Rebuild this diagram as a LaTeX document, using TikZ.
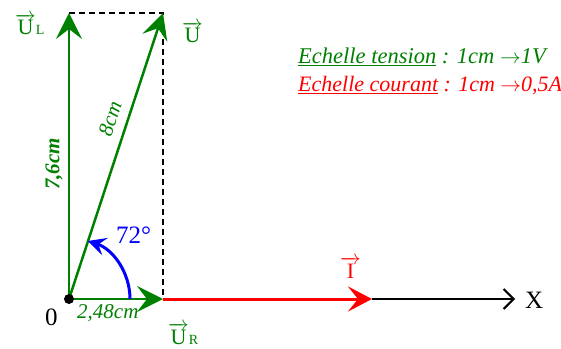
\documentclass[tikz,border=0pt]{standalone}
\usepackage{fontspec}
\setmainfont{Liberation Serif}
\usetikzlibrary{arrows.meta}
\definecolor{vgreen}{RGB}{0,128,0}
\newcommand\vlab[2]{$\overrightarrow{\hbox{#1}}$\hbox{\fontsize{14}{16}\selectfont #2}}
\begin{document}
\begin{tikzpicture}[x=1pt,y=1pt,
  vec/.style={vgreen, line width=2.5pt, -{Stealth[length=26pt,width=26pt,inset=10pt]}},
  cur/.style={red, line width=3pt, -{Stealth[length=24pt,width=25pt,inset=10pt]}},
  axis/.style={black, line width=2pt, -{Straight Barb[length=10pt,width=20pt]}},
  guide/.style={black, line width=1.5pt, dash pattern=on 6pt off 4pt},
  vlbl/.style={font=\fontsize{22}{26}\selectfont, inner sep=0pt, anchor=base west},
  lbl/.style={font=\fontsize{25}{28}\selectfont, inner sep=0pt, anchor=base west},
  meas/.style={vgreen, font=\fontsize{21}{24}\selectfont\itshape, inner sep=0pt},
  legend/.style={font=\fontsize{22}{25}\selectfont\itshape, anchor=base west, inner sep=0pt}]
\useasboundingbox (0,0) rectangle (561,348);
\coordinate (O) at (69,49);
\coordinate (UL) at (69,335);
\coordinate (U) at (163,335);
\coordinate (UR) at (163,49);
\coordinate (I) at (372,49);
\coordinate (X) at (515,49);
\coordinate (A0) at (130,49);
\draw[guide] (UL) -- (U) -- (UR);
\draw[axis] (I) -- (X);
\draw[cur] (UR) -- (I);
\draw[vec] (O) -- (UR);
\draw[vec] (O) -- (UL);
\draw[vec] (O) -- (U);
\fill[black] (O) circle (5);
\draw[blue, line width=3pt, -{Stealth[length=18pt,width=18pt,inset=7pt]}] (A0) arc[start angle=0, end angle=72, radius=61];
\node[vlbl, vgreen] (tUL) at (15,313) {\vlab{U}{L}};
\node[vlbl, vgreen] (tU) at (182,305) {\vlab{U}{}};
\node[vlbl, vgreen] (tUR) at (168,4) {\vlab{U}{R}};
\node[vlbl, red] (tI) at (340,70) {\vlab{I}{}};
\node[lbl] (tX) at (525,40) {X};
\node[lbl] (t0) at (45,23) {0};
\node[lbl, blue] (tang) at (116,105) {72°};
\node[meas, anchor=base west] (t248) at (77,30) {2,48cm};
\node[meas, font=\fontsize{21}{24}\selectfont\itshape\bfseries, rotate=90] (t76) at (54,184) {7,6cm};
\node[meas, rotate=72] (t8) at (110,229) {8cm};
\node[legend, vgreen, font=\fontsize{22.5}{25}\selectfont\itshape] (leg1) at (298,284) {\underline{Echelle tension} : 1cm $\rightarrow$1V};
\node[legend, red] (leg2) at (298,256) {\underline{Echelle courant} : 1cm $\rightarrow$0,5A};
\end{tikzpicture}
\end{document}
